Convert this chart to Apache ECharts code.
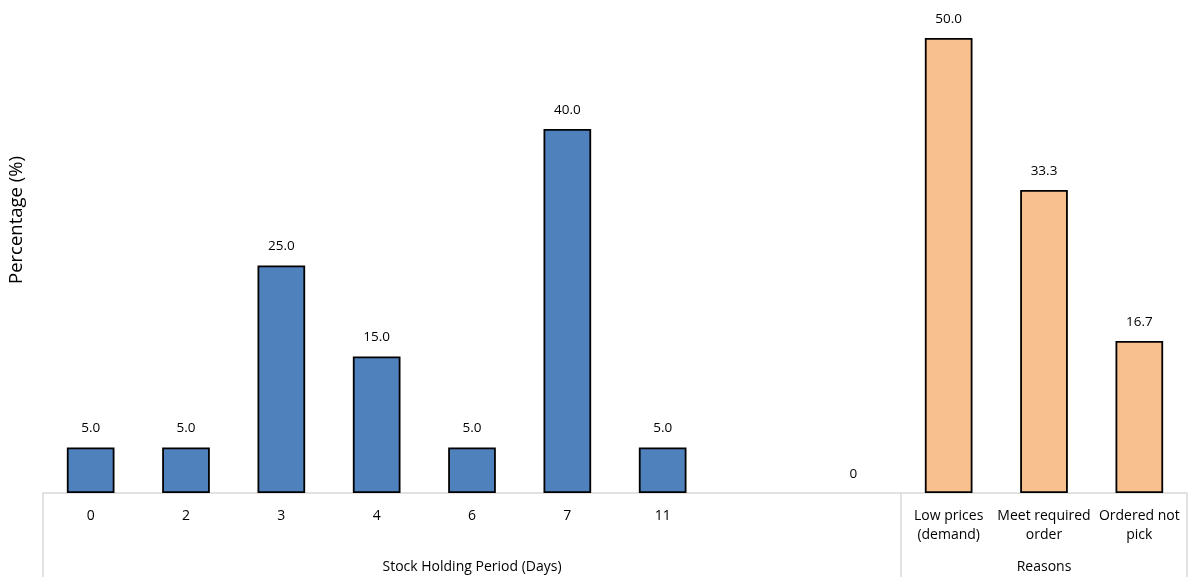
<!DOCTYPE html>
<html>
<head>
<meta charset="utf-8">
<script src="https://cdn.jsdelivr.net/npm/echarts@6/dist/echarts.min.js"></script>
<style>html,body{margin:0;padding:0;background:#fff;}#c{width:1190px;height:577px;}</style>
</head>
<body>
<div id="c"></div>
<script>
const categories = ['0','2','3','4','6','7','11','','','Low prices\n(demand)','Meet required\norder','Ordered not\npick'];
const groupLabels = ['','','','','Stock Holding Period (Days)','','','','','','Reasons',''];
const holdingValues = [5.0,5.0,25.0,15.0,5.0,40.0,5.0,'-','-','-','-','-'];
const zeroValues = ['-','-','-','-','-','-','-','-',0,'-','-','-'];
const reasonValues = ['-','-','-','-','-','-','-','-','-',50.0,33.3,16.7];
const yTitle = 'Percentage (%)';

const FONT = 'Open Sans';
const chart = echarts.init(document.getElementById('c'));
const labelCfg = {show:true, position:'top', distance:12, color:'#000', fontFamily:FONT, fontSize:13.5,
  formatter: p => Number(p.value).toFixed(1)};
chart.setOption({
  animation:false,
  grid:{left:43, right:3, top:38, bottom:84, containLabel:false},
  xAxis:[{
    type:'category', data:categories, position:'bottom',
    axisLine:{show:true, lineStyle:{color:'#d9d9d9', width:1.5}},
    axisTick:{show:true, length:84, lineStyle:{color:'#d9d9d9', width:1.5},
      interval:(i)=> i===0 || i===9},
    axisLabel:{interval:0, color:'#000', fontFamily:FONT, fontSize:14, lineHeight:19, margin:14, verticalAlign:'top'}
  },{
    type:'category', data:groupLabels, position:'bottom', offset:67,
    axisLine:{show:false}, axisTick:{show:false},
    axisLabel:{interval:0, color:'#000', fontFamily:FONT, fontSize:14, margin:0}
  }],
  yAxis:{type:'value', min:0, max:50, show:false},
  graphic:[{type:'text', left:7, top:156, rotation:Math.PI/2,
    style:{text:yTitle, fontFamily:FONT, fontSize:18.5, fill:'#000'}}],
  series:[
    {type:'bar', data:holdingValues, barWidth:'50%', barGap:'-100%',
     itemStyle:{color:'#4f81bd', borderColor:'#000', borderWidth:1.8}, label:labelCfg},
    {type:'bar', data:reasonValues, barWidth:'50%', barGap:'-100%',
     itemStyle:{color:'#f8c08f', borderColor:'#000', borderWidth:1.8}, label:labelCfg},
    {type:'bar', data:zeroValues, barWidth:'50%', barGap:'-100%',
     itemStyle:{color:'transparent', borderWidth:0},
     label:{show:true, position:'top', distance:12, color:'#000', fontFamily:FONT, fontSize:13.5, formatter:'0'}}
  ]
});
</script>
</body>
</html>
